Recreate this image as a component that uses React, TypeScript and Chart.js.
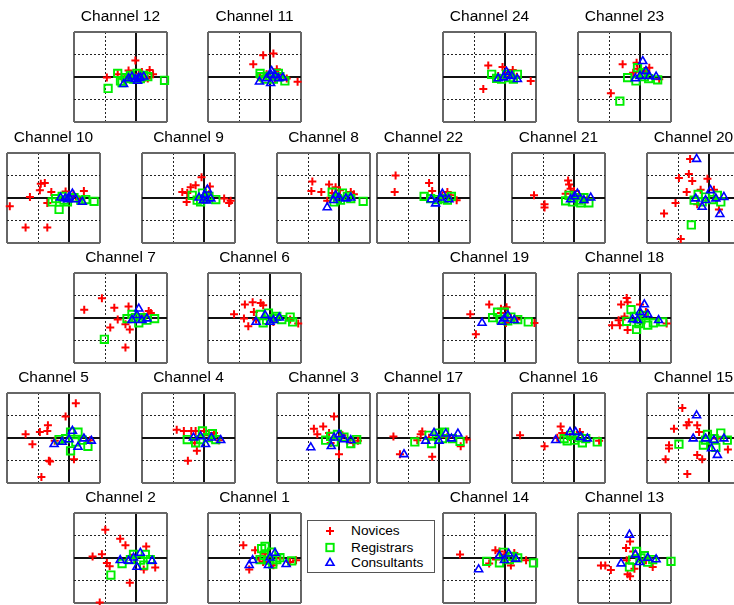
import React, { useEffect, useRef } from 'react';
import { Chart, registerables } from 'chart.js';
Chart.register(...registerables);

type P = [number, number];

// axis ranges / grid steps
const X_MIN = -2, X_MAX = 1, Y_MIN = -2, Y_MAX = 2, STEP = 1;
const GROUPS = ['Novices', 'Registrars', 'Consultants'];

// ---- data (x, y) per channel ----
const ch12Nov: P[] = [[-0.02,0.73],[-0.94,-0.03],[-0.59,0.12],[-0.24,0.29],[-0.1,0.07],[0.19,0.22],[0.44,0.31],[0.55,0.12],[0.3,-0.03],[0.09,0.12],[0.38,-0.07],[-0.4,-0.1]];
const ch12Reg: P[] = [[-0.9,-0.51],[0.92,-0.15],[-0.59,0.16],[-0.5,-0.18],[-0.34,-0.03],[-0.18,0.07],[0.03,0.16],[0.25,0.07],[0.38,0.01],[0.14,-0.07],[-0.08,-0.1],[-0.45,-0.25],[-0.24,-0.07]];
const ch12Con: P[] = [[-0.4,-0.32],[-0.24,-0.07],[-0.02,-0.1],[0.14,-0.03],[-0.13,0.01],[0.25,0.01],[0.05,-0.18],[0.08,-0.05]];

const ch11Nov: P[] = [[-0.22,0.97],[0.11,1.04],[-0.54,0.56],[0.22,0.34],[-0.11,0.12],[0.27,0.12],[0.89,-0.21],[0.54,-0.07],[-0.32,-0.03],[0.16,-0.1]];
const ch11Reg: P[] = [[-0.32,0.16],[0,0.04],[0.27,0.16],[0.48,-0.18],[-0.16,-0.1],[0.11,-0.1],[0.32,0.01],[-0.27,0.01]];
const ch11Con: P[] = [[-0.34,-0.21],[0.02,-0.28],[0.05,0.26],[0.41,-0.03],[0.16,0.07],[-0.11,-0.07],[0.27,-0.06],[0.03,0.1]];

const ch24Nov: P[] = [[-0.54,0.51],[-0.08,0.44],[-0.7,-0.54],[0.83,-0.18],[0.25,0.31],[0.11,0.19],[0.38,0.01],[-0.22,0.04]];
const ch24Reg: P[] = [[-0.43,0.12],[-0.27,-0.06],[-0.11,-0.1],[0.16,-0.03],[0.4,0.12],[0.05,0.12],[0.27,-0.1]];
const ch24Con: P[] = [[-0.22,-0.07],[0.05,0.22],[0.22,0.04],[0.4,-0.1],[-0.05,-0.03],[0.1,0.08]];

const ch23Nov: P[] = [[-0.56,0.56],[-0.11,0.63],[-0.94,-0.72],[-0.22,0.19],[0.3,0.41],[0.62,-0.1],[-0.08,0.37],[0.14,0.26]];
const ch23Reg: P[] = [[-0.65,-1.08],[-0.4,-0.03],[-0.13,-0.18],[0.09,0.19],[0.28,-0.07],[0.57,-0.13],[-0.08,0.41],[0.14,0.01]];
const ch23Con: P[] = [[0.09,0.7],[-0.15,-0.07],[0.19,0.26],[0.52,0.01],[0.3,0.04],[0,0.04]];

const ch10Nov: P[] = [[-1.91,-0.37],[-1.26,0.04],[-0.91,0.63],[-0.78,0.66],[-0.94,0.34],[-0.57,0.26],[-1.4,-1.32],[-0.7,-1.32],[-0.7,-0.22],[-0.11,0.29],[0.48,0.31],[0.14,0.16],[0.32,-0.07]];
const ch10Reg: P[] = [[-0.54,-0.18],[-0.32,-0.51],[-0.43,-0.03],[-0.22,0.07],[-0.05,-0.18],[0.16,0.01],[0.54,-0.07],[0.81,-0.15],[0.38,-0.1],[-0.16,-0.1]];
const ch10Con: P[] = [[-0.27,0.01],[-0.05,-0.07],[0.11,0.19],[0.43,-0.18],[0.22,-0.07],[0,0.04],[-0.12,-0.02]];

const ch9Nov: P[] = [[-0.08,0.92],[-0.27,0.56],[-0.43,0.48],[-0.7,0.26],[-0.54,0.22],[0.19,0.51],[-0.56,-0.18],[0.86,-0.13],[0.81,-0.22],[0.65,-0.03],[0.16,0.16]];
const ch9Reg: P[] = [[-0.38,0.12],[-0.22,-0.1],[-0.05,0.22],[0.16,0.07],[0.38,-0.07],[-0.11,-0.18],[0.05,-0.03]];
const ch9Con: P[] = [[0.11,0.37],[-0.02,-0.1],[-0.16,0.01],[0.22,-0.03],[0.02,0.12],[0.08,-0.12]];

const ch8Nov: P[] = [[-0.86,0.73],[-0.89,0.31],[-0.57,0.26],[-0.32,0.6],[-0.11,0.48],[0.03,0.34],[-0.22,0.22],[0.38,0.26],[-0.38,-0.13],[0.48,0.16]];
const ch8Reg: P[] = [[0.78,-0.15],[-0.22,0.26],[-0.05,-0.03],[0.11,0.22],[0.27,0.07],[0.38,-0.03],[-0.16,-0.18],[0.05,-0.1]];
const ch8Con: P[] = [[-0.38,-0.42],[-0.18,-0.1],[0,0.01],[0.22,-0.03],[0.38,0.01],[-0.11,0.12]];

const ch22Nov: P[] = [[-1.4,1.0],[-1.43,0.26],[-0.32,0.66],[-0.22,0.31],[0.27,0.26],[0.57,-0.1],[0.38,0.12],[0.11,0.12]];
const ch22Reg: P[] = [[-0.48,0.07],[-0.27,-0.03],[-0.05,-0.07],[0.16,-0.03],[0.4,0.07],[0.27,-0.1]];
const ch22Con: P[] = [[-0.25,-0.07],[-0.11,-0.25],[0.11,0.19],[0.32,-0.07],[0.05,0.01]];

const ch21Nov: P[] = [[-1.29,0.12],[-0.95,-0.28],[-0.95,-0.42],[-0.19,0.78],[-0.16,0.6],[-0.11,0.41],[0,0.31],[0.16,0.16],[0.43,-0.07],[-0.27,0.19]];
const ch21Reg: P[] = [[-0.27,-0.13],[-0.16,0.12],[-0.05,-0.18],[0.16,-0.1],[0.32,0.01],[0.48,-0.22],[0.22,-0.22],[0,0.01]];
const ch21Con: P[] = [[0.54,0.01],[0.11,0.19],[-0.11,-0.07],[0.32,-0.1],[0.02,0.07]];

const ch20Nov: P[] = [[-0.61,1.73],[-0.65,1.07],[-0.97,0.89],[-0.54,0.75],[-0.05,0.85],[-0.72,0.26],[-0.27,0.37],[-1.08,-0.22],[-1.45,-0.69],[-0.91,-1.83],[0.32,-0.51],[0.16,0.37],[-0.38,-0.28]];
const ch20Reg: P[] = [[-0.57,-1.2],[-0.48,-0.1],[-0.35,0.16],[-0.11,0.04],[0.27,0.12],[0.38,-0.18],[0.11,-0.07],[-0.22,-0.18]];
const ch20Con: P[] = [[-0.4,1.73],[-0.22,-0.4],[0.35,-0.72],[0.05,0.34],[-0.43,-0.03],[-0.11,-0.1],[0.22,-0.03],[0.48,0.04]];

const ch7Nov: P[] = [[-1.67,0.37],[-1.1,0.88],[-0.7,0.45],[-0.24,0.51],[-0.59,-0.07],[-0.83,-0.42],[-0.34,-0.28],[-0.2,-0.51],[-0.34,-1.32],[0.41,0.31],[0.48,0.22],[0.25,0.07],[-0.13,0.01]];
const ch7Reg: P[] = [[-1.02,-0.95],[-0.29,-0.03],[-0.13,0.16],[0.09,-0.22],[0.35,-0.1],[0.6,-0.03],[-0.02,0.01],[0.19,0.01]];
const ch7Con: P[] = [[0.09,0.41],[0.03,0.12],[-0.13,-0.1],[0.35,-0.03],[0.19,-0.1]];

const ch6Nov: P[] = [[-1.16,0.16],[-0.81,0.6],[-0.56,0.7],[-0.3,0.66],[-0.22,0.56],[-0.52,0.26],[-0.84,-0.03],[-0.7,-0.37],[-0.45,-0.07],[0.65,-0.07],[0.91,-0.25],[0.11,-0.18]];
const ch6Reg: P[] = [[-0.32,0.16],[-0.05,0.22],[-0.22,-0.22],[0.11,-0.03],[0.38,-0.07],[0.65,0.04],[0.73,-0.18],[-0.11,-0.1],[0.22,0.07]];
const ch6Con: P[] = [[-0.45,-0.18],[-0.16,0.12],[0,-0.18],[0.3,0.01],[0.11,-0.1]];

const ch19Nov: P[] = [[-1.12,0.16],[-0.94,-0.73],[-0.51,0.6],[-0.13,0.41],[0.05,0.48],[0.03,-0.22],[0.38,-0.07],[0.95,-0.22],[-0.13,0.22],[0.19,0.01]];
const ch19Reg: P[] = [[-0.4,0.01],[-0.24,0.26],[-0.02,0.26],[-0.13,-0.07],[0.19,0.04],[0.41,-0.07],[0.75,-0.18],[0.09,-0.13]];
const ch19Con: P[] = [[-0.74,-0.22],[-0.1,-0.18],[0.09,0.12],[0.3,-0.1],[-0.02,-0.03]];

const ch18Nov: P[] = [[-0.43,0.89],[-0.61,0.6],[-0.4,0.7],[0,0.6],[-0.9,-0.32],[-0.65,-0.32],[-0.69,-0.1],[-0.4,-0.54],[0.19,0.26],[0.86,-0.25],[-0.5,0.07]];
const ch18Reg: P[] = [[-0.29,0.37],[-0.43,-0.15],[-0.11,-0.51],[-0.18,0.07],[0.03,-0.07],[0.25,-0.32],[0.43,-0.22],[0.73,-0.18],[0.14,0.12],[-0.04,-0.25]];
const ch18Con: P[] = [[0.14,0.6],[0,0.26],[-0.24,-0.07],[0.25,0.16],[0.6,-0.1],[-0.08,-0.1]];

const ch5Nov: P[] = [[0.22,1.54],[-0.11,0.95],[-0.68,0.56],[-0.7,0.31],[-0.94,0.26],[-1.4,0.16],[-1.18,-0.28],[-0.65,-1.01],[-0.61,-1.05],[-0.89,-1.74],[0.16,-0.95],[-0.46,-0.13],[0.68,-0.1]];
const ch5Reg: P[] = [[-0.32,-0.07],[0.05,-0.57],[0.29,0.26],[0.05,0.26],[0.61,-0.37],[0.43,-0.1],[0.22,-0.18],[-0.11,-0.03]];
const ch5Con: P[] = [[-0.48,-0.28],[-0.22,-0.18],[0.11,0.31],[0.29,-0.4],[0.72,-0.13],[0,-0.07],[0.48,-0.03]];

const ch4Nov: P[] = [[-0.88,0.37],[-0.65,0.31],[-0.41,0.31],[-0.27,0.31],[0,0.31],[0.32,0.22],[-0.52,-1.01],[-0.23,-0.57],[-0.3,-0.22],[0.16,0.12],[0.48,-0.1]];
const ch4Reg: P[] = [[-0.54,-0.07],[-0.27,-0.22],[-0.05,0.31],[0.11,0.01],[0.38,-0.07],[0.27,0.19],[-0.11,-0.07]];
const ch4Con: P[] = [[-0.34,0.01],[0.05,-0.28],[0.24,0.01],[0.54,-0.1],[-0.11,0.07]];

const ch3Nov: P[] = [[-0.16,0.95],[-0.81,0.41],[-0.7,0.16],[-0.51,0.51],[-0.32,0.22],[0,-0.72],[-0.27,-0.22],[0.27,-0.13],[0.61,-0.13],[0.46,-0.22],[0.11,0.12]];
const ch3Reg: P[] = [[-0.43,-0.1],[-0.27,0.07],[-0.05,0.16],[0.16,0.04],[0.38,-0.25],[0.57,-0.07],[-0.16,-0.18]];
const ch3Con: P[] = [[-0.91,-0.42],[-0.25,-0.37],[0,0.16],[0.16,-0.07],[0.38,-0.1],[-0.16,0.01]];

const ch17Nov: P[] = [[-1.47,0.07],[-1.26,-0.73],[-0.54,0.29],[-0.59,0.16],[-0.7,-0.1],[-0.22,-0.84],[-0.32,0.01],[0.7,-0.37],[0.89,-0.07],[0.27,0.04]];
const ch17Reg: P[] = [[-0.78,-0.18],[-0.32,0.12],[-0.24,-0.25],[0,0.22],[0.18,0.26],[0.43,-0.03],[0.68,-0.15],[0.11,-0.03]];
const ch17Con: P[] = [[-1.13,-0.73],[-0.43,-0.13],[-0.16,0.22],[0,-0.13],[0.22,0.19],[0.61,0.19],[0.4,-0.03]];

const ch16Nov: P[] = [[-1.74,0.12],[-0.95,-0.37],[-0.43,0.51],[-0.38,0.22],[-0.54,0.01],[0.19,0.26],[0.81,-0.13],[-0.13,0.04]];
const ch16Reg: P[] = [[-0.32,-0.03],[-0.11,0.12],[0.02,-0.1],[0.27,-0.22],[0.38,-0.03],[0.75,-0.18],[-0.22,-0.13],[0.16,0.01]];
const ch16Con: P[] = [[-0.59,-0.1],[-0.13,0.26],[0.05,0.26],[0.43,-0.03],[0.22,0.04]];

const ch15Nov: P[] = [[-0.86,1.33],[-0.65,0.7],[-0.72,0.56],[-0.38,0.56],[-1.13,0.41],[-0.32,0.26],[-1.29,-0.32],[-1.29,-0.47],[-1.4,-0.95],[-0.38,-0.76],[-0.22,-0.95],[-0.7,-1.6],[0.61,-0.51],[0.27,-0.03]];
const ch15Reg: P[] = [[-0.97,-0.28],[-0.18,-0.32],[-0.05,0.16],[0.16,-0.03],[0.38,0.22],[0.22,-0.42],[0.59,-0.1],[-0.11,-0.1]];
const ch15Con: P[] = [[-0.4,1.0],[-0.51,-0.03],[0.08,-0.47],[0.27,-0.76],[-0.11,-0.03],[0.48,-0.03],[0.16,-0.1]];

const ch2Nov: P[] = [[-0.99,1.25],[-0.51,0.85],[-0.34,0.56],[-1.1,0.16],[-1.4,0.07],[-0.94,-0.22],[-0.85,-0.37],[-0.2,-1.1],[-1.17,-1.98],[0.33,0.51],[0.62,-0.42],[0.25,-0.51],[-0.16,0.01]];
const ch2Reg: P[] = [[-0.81,-0.76],[-0.45,-0.25],[-0.08,0.16],[0.3,0.16],[0.14,-0.1],[0.25,-0.32],[-0.18,-0.07],[0.46,-0.07]];
const ch2Con: P[] = [[-0.51,-0.1],[-0.24,-0.13],[0.14,0.22],[0.03,-0.4],[0.52,-0.13],[-0.08,0.01]];

const ch1Nov: P[] = [[-0.86,0.56],[-0.48,0.34],[-0.67,-0.51],[-0.34,-0.07],[-0.16,0.19],[0.32,-0.03],[0.11,-0.32],[0.65,-0.18],[0.84,-0.1],[-0.22,-0.18]];
const ch1Reg: P[] = [[-0.27,0.41],[-0.16,0.51],[-0.32,-0.07],[-0.19,0.12],[0.05,0.26],[0.09,-0.28],[0.32,0.01],[0.7,-0.13],[0.22,-0.07],[-0.05,-0.1]];
const ch1Con: P[] = [[-0.67,-0.32],[-0.56,-0.1],[-0.05,-0.32],[0.16,0.22],[0.52,-0.28],[0,0.01]];

const ch14Nov: P[] = [[-1.45,0.15],[-0.31,0.34],[-0.18,0.29],[0.3,0.22],[0.19,-0.34],[0.68,-0.1],[-0.51,-0.25],[-0.29,-0.07],[-0.02,0.15]];
const ch14Reg: P[] = [[-0.59,-0.15],[-0.18,-0.22],[-0.05,0.25],[0.14,-0.07],[0.41,0],[0.92,-0.22],[0.24,0.07]];
const ch14Con: P[] = [[-0.85,-0.51],[-0.18,0.1],[0.12,0.19],[0.35,-0.04],[-0.02,-0.1]];

const ch13Nov: P[] = [[-0.32,0.73],[-0.45,0.44],[-0.22,0.29],[-1.26,-0.34],[-1.12,-0.34],[-0.94,-0.54],[-0.4,-0.73],[-0.32,-0.81],[-0.43,-0.1],[-0.18,-0.48],[0.41,-0.4],[0.19,-0.1]];
const ch13Reg: P[] = [[-0.11,0.29],[-0.34,-0.4],[-0.24,-0.1],[0.03,0],[0.25,-0.19],[0.41,-0.07],[1.0,-0.15],[0.14,0.1]];
const ch13Con: P[] = [[-0.34,1.03],[-0.61,-0.25],[-0.15,0.15],[0.25,0],[0.52,-0.07],[-0.02,-0.19]];

// ---- panel layout (page px) ----
const BOX_W = 93, BOX_H = 91, TITLE_H = 30, PAD_X = 10, PAD_B = 6;
const ROW_TOP = [32, 153, 273, 393, 513];

const PANELS: { title: string; data: P[][]; left: number; row: number }[] = [
  { title: 'Channel 12', data: [ch12Nov, ch12Reg, ch12Con], left: 74, row: 0 },
  { title: 'Channel 11', data: [ch11Nov, ch11Reg, ch11Con], left: 208, row: 0 },
  { title: 'Channel 24', data: [ch24Nov, ch24Reg, ch24Con], left: 443, row: 0 },
  { title: 'Channel 23', data: [ch23Nov, ch23Reg, ch23Con], left: 578, row: 0 },
  { title: 'Channel 10', data: [ch10Nov, ch10Reg, ch10Con], left: 7, row: 1 },
  { title: 'Channel 9', data: [ch9Nov, ch9Reg, ch9Con], left: 142, row: 1 },
  { title: 'Channel 8', data: [ch8Nov, ch8Reg, ch8Con], left: 277, row: 1 },
  { title: 'Channel 22', data: [ch22Nov, ch22Reg, ch22Con], left: 377, row: 1 },
  { title: 'Channel 21', data: [ch21Nov, ch21Reg, ch21Con], left: 512, row: 1 },
  { title: 'Channel 20', data: [ch20Nov, ch20Reg, ch20Con], left: 647, row: 1 },
  { title: 'Channel 7', data: [ch7Nov, ch7Reg, ch7Con], left: 74, row: 2 },
  { title: 'Channel 6', data: [ch6Nov, ch6Reg, ch6Con], left: 208, row: 2 },
  { title: 'Channel 19', data: [ch19Nov, ch19Reg, ch19Con], left: 443, row: 2 },
  { title: 'Channel 18', data: [ch18Nov, ch18Reg, ch18Con], left: 578, row: 2 },
  { title: 'Channel 5', data: [ch5Nov, ch5Reg, ch5Con], left: 7, row: 3 },
  { title: 'Channel 4', data: [ch4Nov, ch4Reg, ch4Con], left: 142, row: 3 },
  { title: 'Channel 3', data: [ch3Nov, ch3Reg, ch3Con], left: 277, row: 3 },
  { title: 'Channel 17', data: [ch17Nov, ch17Reg, ch17Con], left: 377, row: 3 },
  { title: 'Channel 16', data: [ch16Nov, ch16Reg, ch16Con], left: 512, row: 3 },
  { title: 'Channel 15', data: [ch15Nov, ch15Reg, ch15Con], left: 647, row: 3 },
  { title: 'Channel 2', data: [ch2Nov, ch2Reg, ch2Con], left: 74, row: 4 },
  { title: 'Channel 1', data: [ch1Nov, ch1Reg, ch1Con], left: 208, row: 4 },
  { title: 'Channel 14', data: [ch14Nov, ch14Reg, ch14Con], left: 443, row: 4 },
  { title: 'Channel 13', data: [ch13Nov, ch13Reg, ch13Con], left: 578, row: 4 },
];

const FONT = "'Liberation Sans', Arial, Helvetica, sans-serif";
const COLORS = ['#ff0000', '#00ee00', '#0000ff'];
const STYLES = ['cross', 'rect', 'triangle'];
const RADII = [4, 5.2, 4.6];
const WIDTHS = [2, 1.9, 1.6];

function gridColor(min: number, max: number) {
  return (c: any) => {
    const v = c.tick ? c.tick.value : NaN;
    if (v === min || v === max) return '#666666';
    if (v === 0) return '#111111';
    return '#222222';
  };
}
function gridWidth(min: number, max: number) {
  return (c: any) => {
    const v = c.tick ? c.tick.value : NaN;
    if (v === min || v === max) return 2;
    if (v === 0) return 2;
    return 1;
  };
}
function gridDash(min: number, max: number) {
  return (c: any) => {
    const v = c.tick ? c.tick.value : NaN;
    if (v === min || v === max || v === 0) return [];
    return [2, 2];
  };
}

function Panel({ title, data, left, top }: { title: string; data: P[][]; left: number; top: number }) {
  const ref = useRef<HTMLCanvasElement>(null);
  const W = BOX_W + 2 * PAD_X;
  const H = TITLE_H + BOX_H + PAD_B;
  useEffect(() => {
    const chart = new Chart(ref.current as HTMLCanvasElement, {
      type: 'scatter',
      data: {
        datasets: data.map((pts, i) => ({
          label: GROUPS[i],
          data: pts.map(([x, y]) => ({ x, y })),
          pointStyle: STYLES[i] as any,
          pointRadius: RADII[i],
          pointHoverRadius: RADII[i],
          pointBorderWidth: WIDTHS[i],
          borderColor: COLORS[i],
          pointBorderColor: COLORS[i],
          backgroundColor: 'rgba(0,0,0,0)',
          pointBackgroundColor: 'rgba(0,0,0,0)',
          order: 3 - i,
          clip: false as any,
        })),
      },
      options: {
        animation: false,
        responsive: false,
        events: [],
        layout: { padding: { left: PAD_X, right: PAD_X, top: 0, bottom: PAD_B } },
        plugins: {
          legend: { display: false },
          tooltip: { enabled: false },
          title: {
            display: true,
            text: title,
            color: '#000',
            font: { family: FONT, size: 15.5, weight: 'normal', lineHeight: 1.2 },
            padding: { top: 5, bottom: TITLE_H - 5 - 15.5 * 1.2 },
          },
        },
        scales: {
          x: {
            type: 'linear', min: X_MIN, max: X_MAX,
            ticks: { display: false, stepSize: STEP },
            grid: { drawTicks: false, color: gridColor(X_MIN, X_MAX), lineWidth: gridWidth(X_MIN, X_MAX) },
            border: { display: false, dash: gridDash(X_MIN, X_MAX) as any },
          },
          y: {
            type: 'linear', min: Y_MIN, max: Y_MAX,
            ticks: { display: false, stepSize: STEP },
            grid: { drawTicks: false, color: gridColor(Y_MIN, Y_MAX), lineWidth: gridWidth(Y_MIN, Y_MAX) },
            border: { display: false, dash: gridDash(Y_MIN, Y_MAX) as any },
          },
        },
      } as any,
    });
    return () => chart.destroy();
  }, []);
  return (
    <canvas
      ref={ref}
      width={W}
      height={H}
      style={{ position: 'absolute', left: left - PAD_X, top: top - TITLE_H, width: W, height: H }}
    />
  );
}

function Legend() {
  const rowY = [10, 26.5, 42];
  return (
    <div
      style={{
        position: 'absolute', left: 307, top: 520, width: 128, height: 53, boxSizing: 'border-box',
        border: '1.5px solid #555', background: '#fff', fontFamily: FONT, fontSize: 13.7, color: '#000',
      }}
    >
      <svg width={40} height={50} style={{ position: 'absolute', left: 0, top: 0 }}>
        <g stroke={COLORS[0]} strokeWidth={2} fill="none">
          <line x1={18} y1={rowY[0]} x2={26} y2={rowY[0]} />
          <line x1={22} y1={rowY[0] - 4} x2={22} y2={rowY[0] + 4} />
        </g>
        <rect x={18.3} y={rowY[1] - 3.7} width={7.4} height={7.4} stroke={COLORS[1]} strokeWidth={1.9} fill="none" />
        <polygon
          points={`22,${rowY[2] - 4.6} 26,${rowY[2] + 2.3} 18,${rowY[2] + 2.3}`}
          stroke={COLORS[2]} strokeWidth={1.6} fill="none"
        />
      </svg>
      {GROUPS.map((g, i) => (
        <div key={g} style={{ position: 'absolute', left: 43, top: rowY[i] - 9, lineHeight: '18px', whiteSpace: 'nowrap' }}>
          {g}
        </div>
      ))}
    </div>
  );
}

export default function App() {
  return (
    <div style={{ position: 'absolute', left: 0, top: 0, width: 734, height: 605, overflow: 'hidden', background: '#fff' }}>
      {PANELS.map((p) => (
        <Panel key={p.title} title={p.title} data={p.data} left={p.left} top={ROW_TOP[p.row]} />
      ))}
      <Legend />
    </div>
  );
}
